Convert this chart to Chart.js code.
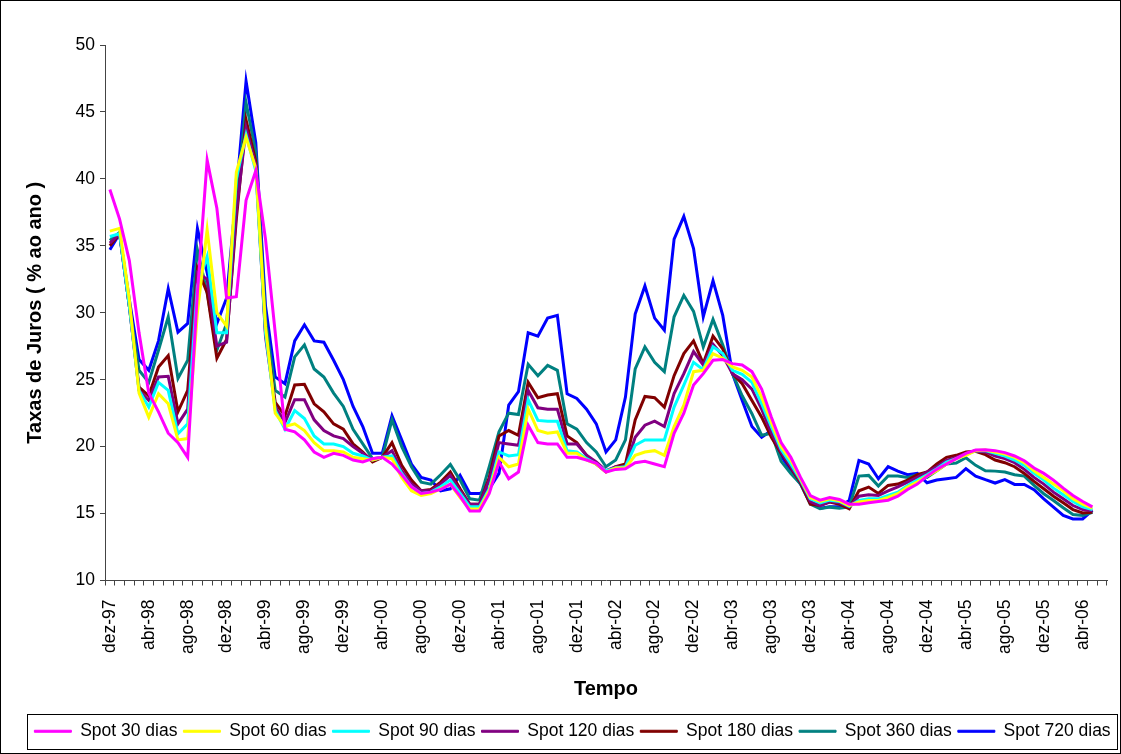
<!DOCTYPE html>
<html>
<head>
<meta charset="utf-8">
<script src="https://cdn.jsdelivr.net/npm/chart.js@4.4.1/dist/chart.umd.min.js"></script>
<style>
  body { margin: 0; background: #fff; }
  canvas { display: block; }
</style>
</head>
<body>
<canvas id="grafico" width="1121" height="754"></canvas>
<script>
// meses dez-97 ... jun-06
var meses = ["jan", "fev", "mar", "abr", "mai", "jun", "jul", "ago", "set", "out", "nov", "dez"];
var anos = ["98", "99", "00", "01", "02", "03", "04", "05"];
var categorias = ["dez-97"];
anos.forEach(function (a) {
  meses.forEach(function (m) { categorias.push(m + "-" + a); });
});
meses.slice(0, 6).forEach(function (m) { categorias.push(m + "-06"); });

var spot30 = [39.2,
  37.0, 33.9, 28.5, 24.0, 22.6, 21.0, 20.3, 19.2, 31.5, 41.4, 37.8, 31.1,
  31.2, 38.4, 40.6, 35.5, 28.5, 21.3, 21.1, 20.5, 19.6, 19.2, 19.5, 19.35,
  19.0, 18.85, 19.1, 19.2, 18.7, 17.9, 17.0, 16.5, 16.6, 16.8, 17.2, 16.3,
  15.2, 15.2, 16.5, 18.85, 17.6, 18.1, 21.6, 20.3, 20.2, 20.2, 19.2, 19.2,
  19.0, 18.75, 18.1, 18.3, 18.35, 18.8, 18.9, 18.7, 18.5, 21.0, 22.5, 24.6,
  25.45, 26.45, 26.5, 26.2, 26.1, 25.6, 24.3, 22.2, 20.3, 19.2, 17.7, 16.35,
  16.0, 16.2, 16.05, 15.7, 15.7, 15.8, 15.9, 16.0, 16.3, 16.8, 17.2, 17.8,
  18.3, 18.7, 19.1, 19.5, 19.75, 19.77, 19.7, 19.55, 19.3, 18.95, 18.4, 18.0,
  17.5, 16.9, 16.35, 15.9, 15.5, null];

var spot60 = [36.1,
  36.3, 31.0, 24.0, 22.2, 23.95, 23.2, 20.5, 20.6, 30.0, 36.2, 30.0, 29.0,
  40.5, 43.1, 40.8, 29.0, 22.5, 21.5, 21.7, 21.2, 20.3, 19.7, 19.7, 19.6,
  19.2, 19.1, 19.0, 19.2, 19.1, 17.7, 16.7, 16.35, 16.5, 16.85, 17.2, 16.2,
  15.35, 15.35, 16.7, 19.2, 18.5, 18.7, 22.8, 21.2, 21.0, 21.1, 19.5, 19.5,
  19.0, 18.7, 18.1, 18.4, 18.4, 19.35, 19.6, 19.7, 19.35, 21.5, 23.1, 25.6,
  25.7, 26.95, 26.6, 25.95, 25.7, 25.2, 23.7, 21.8, 20.0, 19.0, 17.6, 16.2,
  15.9, 16.1, 15.95, 15.6, 15.86, 15.98, 15.98, 16.2, 16.48, 16.98, 17.35, 17.8,
  18.2, 18.7, 19.1, 19.35, 19.7, 19.75, 19.6, 19.45, 19.2, 18.8, 18.2, 17.7,
  17.2, 16.7, 16.1, 15.7, 15.4, null];

var spot90 = [35.7,
  35.9, 30.5, 24.2, 22.95, 24.8, 24.2, 20.96, 21.7, 32.0, 34.2, 28.5, 28.5,
  40.0, 43.3, 40.6, 28.5, 22.7, 21.3, 22.7, 22.1, 20.8, 20.2, 20.2, 20.0,
  19.5, 19.3, 19.0, 19.2, 19.3, 18.0, 17.0, 16.5, 16.6, 17.0, 17.5, 16.5,
  15.5, 15.5, 16.85, 19.6, 19.3, 19.4, 23.5, 21.96, 21.9, 21.9, 19.7, 19.6,
  19.1, 18.7, 18.2, 18.4, 18.5, 20.1, 20.5, 20.5, 20.5, 22.95, 24.6, 26.3,
  25.75, 27.45, 26.95, 25.7, 25.4, 24.8, 23.2, 21.5, 19.8, 18.7, 17.5, 16.1,
  15.8, 16.0, 15.9, 15.55, 15.98, 16.1, 16.1, 16.35, 16.6, 17.1, 17.5, 17.9,
  18.35, 18.85, 19.1, 19.4, 19.7, 19.7, 19.5, 19.3, 19.0, 18.6, 18.0, 17.5,
  16.9, 16.4, 15.9, 15.5, 15.3, null];

var spot120 = [35.2,
  35.9, 30.5, 24.2, 23.45, 25.2, 25.25, 21.7, 22.8, 33.0, 32.5, 27.5, 27.8,
  37.5, 43.8, 41.0, 28.2, 23.0, 21.8, 23.5, 23.5, 22.0, 21.2, 20.8, 20.6,
  20.0, 19.5, 19.0, 19.2, 19.7, 18.2, 17.2, 16.7, 16.7, 17.2, 17.85, 16.7,
  15.7, 15.7, 17.5, 20.3, 20.2, 20.1, 24.2, 22.9, 22.8, 22.8, 20.2, 20.2,
  19.35, 18.85, 18.2, 18.5, 18.5, 20.7, 21.6, 21.9, 21.5, 23.96, 25.45, 27.1,
  26.1, 27.65, 26.8, 25.45, 25.0, 24.3, 22.8, 21.0, 19.6, 18.5, 17.4, 15.9,
  15.6, 15.9, 15.8, 15.5, 16.3, 16.4, 16.35, 16.7, 17.0, 17.35, 17.7, 18.1,
  18.5, 18.97, 19.2, 19.5, 19.7, 19.6, 19.3, 19.1, 18.8, 18.3, 17.7, 17.2,
  16.6, 16.1, 15.6, 15.3, 15.2, null];

var spot180 = [35.0,
  35.9, 30.5, 24.45, 23.8, 25.95, 26.8, 22.6, 24.2, 33.3, 31.5, 26.6, 28.0,
  37.0, 44.4, 41.3, 28.5, 23.3, 22.3, 24.6, 24.65, 23.2, 22.6, 21.7, 21.3,
  20.2, 19.6, 18.85, 19.2, 20.3, 18.6, 17.5, 16.7, 16.8, 17.35, 18.1, 16.85,
  15.7, 15.7, 17.7, 20.8, 21.2, 20.85, 24.8, 23.65, 23.85, 23.95, 20.8, 20.3,
  19.35, 18.7, 18.1, 18.5, 18.7, 22.0, 23.75, 23.65, 22.95, 25.3, 26.95, 27.9,
  26.2, 28.25, 27.3, 25.45, 24.7, 23.45, 22.2, 20.7, 19.5, 18.4, 17.3, 15.7,
  15.6, 15.86, 15.7, 15.36, 16.7, 16.98, 16.5, 17.1, 17.2, 17.5, 17.9, 18.1,
  18.7, 19.2, 19.35, 19.6, 19.65, 19.4, 19.0, 18.8, 18.5, 18.0, 17.4, 16.85,
  16.3, 15.8, 15.3, 15.05, 15.1, null];

var spot360 = [35.4,
  36.0, 30.5, 25.7, 24.8, 27.2, 29.7, 25.1, 26.45, 34.7, 31.5, 27.2, 29.2,
  38.0, 45.7, 42.0, 29.5, 24.2, 23.7, 26.7, 27.6, 25.8, 25.2, 24.0, 23.0,
  21.3, 20.2, 19.1, 19.2, 22.0, 20.0, 18.5, 17.35, 17.2, 17.9, 18.67, 17.5,
  16.1, 16.0, 18.5, 21.1, 22.5, 22.4, 26.15, 25.3, 26.07, 25.7, 21.7, 21.3,
  20.3, 19.6, 18.5, 19.0, 20.5, 25.8, 27.45, 26.3, 25.6, 29.7, 31.3, 30.1,
  27.45, 29.5, 27.6, 25.45, 23.8, 22.46, 20.85, 21.0, 18.9, 18.0, 17.2, 15.7,
  15.36, 15.48, 15.4, 15.5, 17.8, 17.85, 17.05, 17.8, 17.8, 17.7, 17.9, 17.7,
  18.2, 18.7, 18.77, 19.17, 18.6, 18.2, 18.17, 18.1, 17.9, 17.8, 17.1, 16.48,
  15.98, 15.43, 14.93, 14.86, 15.1, null];

var spot720 = [34.7,
  35.9, 31.0, 26.5, 25.7, 27.9, 31.8, 28.55, 29.2, 36.3, 33.0, 29.2, 31.1,
  39.0, 47.3, 42.7, 30.5, 25.2, 24.7, 27.9, 29.1, 27.9, 27.8, 26.45, 25.0,
  23.0, 21.5, 19.5, 19.5, 22.3, 20.5, 18.7, 17.7, 17.5, 16.7, 16.85, 17.85,
  16.5, 16.5, 16.85, 18.0, 23.1, 24.1, 28.5, 28.25, 29.6, 29.8, 23.95, 23.6,
  22.8, 21.7, 19.6, 20.5, 23.7, 29.9, 32.0, 29.6, 28.7, 35.5, 37.2, 34.8,
  29.7, 32.4, 29.8, 25.45, 23.45, 21.5, 20.7, 21.2, 19.3, 18.2, 17.2, 15.86,
  15.4, 15.5, 15.5, 15.98, 18.97, 18.7, 17.6, 18.5, 18.17, 17.9, 18.0, 17.3,
  17.5, 17.6, 17.7, 18.35, 17.8, 17.53, 17.28, 17.53, 17.18, 17.18, 16.78, 16.1,
  15.48, 14.86, 14.6, 14.6, 15.23, null];

var series = [
  { nome: "Spot 30 dias", dados: spot30, cor: "#ff00ff" },
  { nome: "Spot 60 dias", dados: spot60, cor: "#ffff00" },
  { nome: "Spot 90 dias", dados: spot90, cor: "#00ffff" },
  { nome: "Spot 120 dias", dados: spot120, cor: "#800080" },
  { nome: "Spot 180 dias", dados: spot180, cor: "#800000" },
  { nome: "Spot 360 dias", dados: spot360, cor: "#008080" },
  { nome: "Spot 720 dias", dados: spot720, cor: "#0000ff" }
];

Chart.defaults.font.family = "'Liberation Sans', Arial, sans-serif";
Chart.defaults.color = "#000";

// caixa da legenda + moldura externa
var moldura = {
  id: "moldura",
  afterLayout: function (chart) {
    chart.legend.left += 19;
    chart.legend.right += 19;
  },
  afterDraw: function (chart) {
    var ctx = chart.ctx;
    var caixas = chart.legend.legendHitBoxes;
    var esq = Math.min.apply(null, caixas.map(function (c) { return c.left; })) - 7;
    var dir = Math.max.apply(null, caixas.map(function (c) { return c.left + c.width; })) + 7;
    var topo = caixas[0].top - 9;
    var base = caixas[0].top + caixas[0].height + 8;
    ctx.save();
    ctx.strokeStyle = "#000";
    ctx.lineWidth = 1;
    ctx.strokeRect(Math.round(esq) + 0.5, Math.round(topo) + 0.5, Math.round(dir - esq), Math.round(base - topo));
    ctx.strokeRect(0.5, 0.5, chart.width - 1, chart.height - 1);
    ctx.restore();
  }
};

var ctx = document.getElementById("grafico");
new Chart(ctx, {
  type: "line",
  data: {
    labels: categorias,
    datasets: series.map(function (s) {
      return {
        label: s.nome,
        data: s.dados,
        borderColor: s.cor,
        backgroundColor: s.cor,
        borderWidth: 3,
        pointRadius: 0,
        tension: 0
      };
    })
  },
  plugins: [moldura],
  options: {
    responsive: false,
    animation: false,
    layout: { padding: { top: 45, right: 14, bottom: 4, left: 0 } },
    plugins: {
      tooltip: { enabled: false },
      legend: {
        position: "bottom",
        labels: {
          boxWidth: 37,
          boxHeight: 2,
          padding: 6,
          font: { size: 17.5 },
          generateLabels: function (chart) {
            var itens = Chart.defaults.plugins.legend.labels.generateLabels(chart);
            itens.forEach(function (it) { it.lineWidth = 1; });
            return itens;
          }
        }
      }
    },
    scales: {
      x: {
        offset: true,
        grid: { offset: true, drawOnChartArea: false, tickLength: 5, color: "#444" },
        border: { color: "#444" },
        ticks: {
          autoSkip: false,
          minRotation: 90,
          maxRotation: 90,
          padding: 14,
          font: { size: 17.5 },
          callback: function (v, i) { return i % 4 === 0 ? this.getLabelForValue(v) : ""; }
        },
        title: {
          display: true,
          text: "Tempo",
          font: { size: 20, weight: "bold" },
          padding: { top: 0, bottom: 15 }
        },
        afterFit: function (s) {
          s.height = 136;
          s.paddingLeft = 0;
          s.paddingRight = 0;
        }
      },
      y: {
        min: 10,
        max: 50,
        grid: { drawOnChartArea: false, tickLength: 5, color: "#444" },
        border: { color: "#444" },
        ticks: { stepSize: 5, padding: 5, font: { size: 17.5 } },
        title: {
          display: true,
          text: "Taxas de Juros ( % ao ano )",
          font: { size: 20, weight: "bold" },
          padding: { top: 23, bottom: 0 }
        },
        afterFit: function (s) { s.width = 105; }
      }
    }
  }
});
</script>
</body>
</html>
